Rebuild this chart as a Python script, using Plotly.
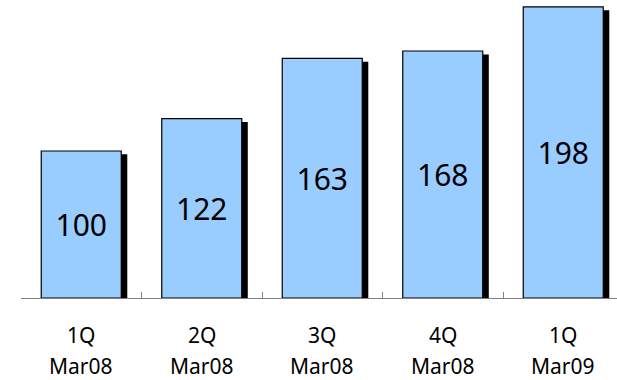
import plotly.graph_objects as go

quarters = ["1Q", "2Q", "3Q", "4Q", "1Q"]
periods = ["Mar08", "Mar08", "Mar08", "Mar08", "Mar09"]
values = [100, 122, 163, 168, 198]

xs = list(range(len(values)))
bar_w = 0.664
shadow_dx = 0.05
shadow_dy = 2.3

fig = go.Figure()
fig.add_trace(go.Bar(
    x=xs, y=[v - shadow_dy for v in values], width=bar_w, offset=-bar_w / 2 + shadow_dx,
    marker=dict(color="#000000", line=dict(width=0)), hoverinfo="skip", showlegend=False,
))
fig.add_trace(go.Bar(
    x=xs, y=values, width=bar_w, offset=-bar_w / 2,
    marker=dict(color="#99CCFF", line=dict(color="#000000", width=1.2)),
    text=[str(v) for v in values], textposition="inside", insidetextanchor="middle",
    constraintext="none",
    textfont=dict(family="Noto Sans", size=30, color="#000000"),
    showlegend=False,
))

for i, (q, p) in enumerate(zip(quarters, periods)):
    fig.add_annotation(x=i, y=0, xref="x", yref="paper", text=q, showarrow=False,
                       yanchor="middle", yshift=-37,
                       font=dict(family="Noto Sans", size=21, color="#000000"))
    fig.add_annotation(x=i, y=0, xref="x", yref="paper", text=p, showarrow=False,
                       yanchor="middle", yshift=-68,
                       font=dict(family="Noto Sans", size=21, color="#000000"))

fig.update_layout(
    width=617, height=380,
    margin=dict(l=21, r=0, t=0, b=82),
    plot_bgcolor="white", paper_bgcolor="white",
    barmode="overlay",
    xaxis=dict(range=[-0.5, 4.446], showgrid=False, zeroline=False,
               showline=True, linecolor="#808080", linewidth=1,
               tickmode="array", tickvals=[-0.5, 0.5, 1.5, 2.5, 3.5],
               ticks="inside", ticklen=6, tickcolor="#808080", tickwidth=1,
               showticklabels=False),
    yaxis=dict(range=[0, 202.7], visible=False),
)

fig.write_html("out.html")
